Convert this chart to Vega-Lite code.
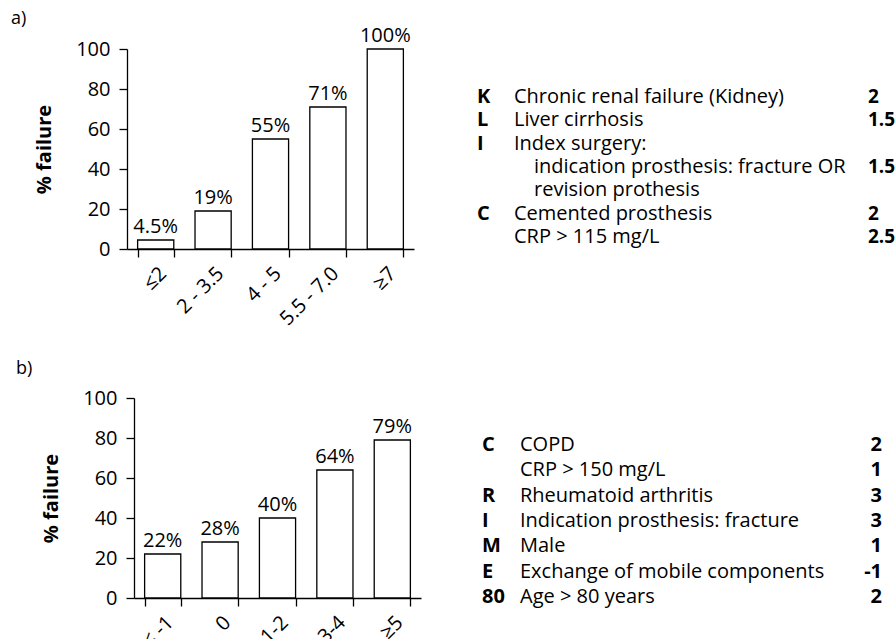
{
  "$schema": "https://vega.github.io/schema/vega-lite/v6.json",
  "padding": {"left": 11, "top": 10, "right": 0, "bottom": 0},
  "config": {
    "font": "Open Sans",
    "view": {"stroke": null},
    "axis": {"domainColor": "black", "tickColor": "black", "labelColor": "black", "titleColor": "black", "domainWidth": 1.3, "tickWidth": 1.3, "grid": false},
    "title": {"color": "black"},
    "text": {"color": "black"}
  },
  "columns": 2,
  "spacing": {"row": 149, "column": 20},
  "bounds": "flush",
  "concat": [
    {
      "width": 287,
      "height": 200,
      "title": {"text": "a)", "anchor": "start", "frame": "group", "dx": -116, "offset": -16, "baseline": "alphabetic", "fontSize": 18, "fontWeight": "normal"},
      "data": {"values": [
        {"score": "≤2", "pct": 4.5, "label": "4.5%"},
        {"score": "2 - 3.5", "pct": 19, "label": "19%"},
        {"score": "4 - 5", "pct": 55, "label": "55%"},
        {"score": "5.5 - 7.0", "pct": 71, "label": "71%"},
        {"score": "≥7", "pct": 100, "label": "100%"}
      ]},
      "encoding": {
        "x": {"field": "score", "type": "nominal", "sort": null, "scale": {"paddingInner": 0.37, "paddingOuter": 0.185},
              "axis": {"title": null, "labelAngle": -45, "labelFontSize": 20, "tickBand": "extent", "tickSize": 8, "labelPadding": 6}},
        "y": {"field": "pct", "type": "quantitative", "scale": {"domain": [0, 100]},
              "axis": {"title": "% failure", "values": [0, 20, 40, 60, 80, 100], "tickSize": 8, "labelFontSize": 20, "labelPadding": 9, "titleFontSize": 20, "titleFontWeight": "bold", "titlePadding": 21}}
      },
      "layer": [
        {"mark": {"type": "bar", "fill": "white", "stroke": "black", "strokeWidth": 1.3}},
        {"mark": {"type": "text", "baseline": "alphabetic", "dy": -7, "fontSize": 20}, "encoding": {"text": {"field": "label"}}}
      ]
    },
    {
      "width": 430,
      "height": 200,
      "data": {"values": [
        {"line": 1, "code": "K", "label": "Chronic renal failure (Kidney)", "level": 1, "points": "2"},
        {"line": 2, "code": "L", "label": "Liver cirrhosis", "level": 1, "points": "1.5"},
        {"line": 3, "code": "I", "label": "Index surgery:", "level": 1, "points": ""},
        {"line": 4, "code": "", "label": "indication prosthesis: fracture OR", "level": 2, "points": "1.5"},
        {"line": 5, "code": "", "label": "revision prothesis", "level": 2, "points": ""},
        {"line": 6, "code": "C", "label": "Cemented prosthesis", "level": 1, "points": "2"},
        {"line": 7, "code": "", "label": "CRP > 115 mg/L", "level": 1, "points": "2.5"}
      ]},
      "encoding": {"y": {"field": "line", "type": "quantitative", "scale": {"domain": [1, 7], "range": [48, 188], "nice": false, "zero": false}, "axis": null}},
      "layer": [
        {"mark": {"type": "text", "align": "left", "baseline": "middle", "fontSize": 20, "fontWeight": "bold"},
         "encoding": {"x": {"datum": 0, "type": "quantitative", "scale": {"domain": [0, 1, 2, 3], "range": [36, 73, 93, 427], "nice": false, "zero": false}, "axis": null}, "text": {"field": "code"}}},
        {"mark": {"type": "text", "align": "left", "baseline": "middle", "fontSize": 20},
         "encoding": {"x": {"field": "level", "type": "quantitative", "axis": null}, "text": {"field": "label"}}},
        {"mark": {"type": "text", "align": "left", "baseline": "middle", "fontSize": 19, "fontWeight": "bold"},
         "encoding": {"x": {"datum": 3, "type": "quantitative", "axis": null}, "text": {"field": "points"}}}
      ]
    },
    {
      "width": 294,
      "height": 200,
      "title": {"text": "b)", "anchor": "start", "frame": "group", "dx": -111, "offset": -4, "baseline": "alphabetic", "fontSize": 18, "fontWeight": "normal"},
      "data": {"values": [
        {"score": "≤ -1", "pct": 22, "label": "22%"},
        {"score": "0", "pct": 28, "label": "28%"},
        {"score": "1-2", "pct": 40, "label": "40%"},
        {"score": "3-4", "pct": 64, "label": "64%"},
        {"score": "≥5", "pct": 79, "label": "79%"}
      ]},
      "encoding": {
        "x": {"field": "score", "type": "nominal", "sort": null, "scale": {"paddingInner": 0.37, "paddingOuter": 0.185, "rangeMin": 7},
              "axis": {"title": null, "labelAngle": -45, "labelFontSize": 20, "tickBand": "extent", "tickSize": 8, "labelPadding": 6}},
        "y": {"field": "pct", "type": "quantitative", "scale": {"domain": [0, 100]},
              "axis": {"title": "% failure", "offset": -7, "values": [0, 20, 40, 60, 80, 100], "tickSize": 8, "labelFontSize": 20, "labelPadding": 9, "titleFontSize": 20, "titleFontWeight": "bold", "titlePadding": 21}}
      },
      "layer": [
        {"mark": {"type": "bar", "fill": "white", "stroke": "black", "strokeWidth": 1.3}},
        {"mark": {"type": "text", "baseline": "alphabetic", "dy": -7, "fontSize": 20}, "encoding": {"text": {"field": "label"}}}
      ]
    },
    {
      "width": 430,
      "height": 200,
      "data": {"values": [
        {"line": 1, "code": "C", "label": "COPD", "level": 1, "points": "2"},
        {"line": 2, "code": "", "label": "CRP > 150 mg/L", "level": 1, "points": "1"},
        {"line": 3, "code": "R", "label": "Rheumatoid arthritis", "level": 1, "points": "3"},
        {"line": 4, "code": "I", "label": "Indication prosthesis: fracture", "level": 1, "points": "3"},
        {"line": 5, "code": "M", "label": "Male", "level": 1, "points": "1"},
        {"line": 6, "code": "E", "label": "Exchange of mobile components", "level": 1, "points": "-1"},
        {"line": 7, "code": "80", "label": "Age > 80 years", "level": 1, "points": "2"}
      ]},
      "encoding": {"y": {"field": "line", "type": "quantitative", "scale": {"domain": [1, 7], "range": [47, 199], "nice": false, "zero": false}, "axis": null}},
      "layer": [
        {"mark": {"type": "text", "align": "left", "baseline": "middle", "fontSize": 20, "fontWeight": "bold"},
         "encoding": {"x": {"datum": 0, "type": "quantitative", "scale": {"domain": [0, 1, 2, 3], "range": [41, 79, 99, 441], "nice": false, "zero": false}, "axis": null}, "text": {"field": "code"}}},
        {"mark": {"type": "text", "align": "left", "baseline": "middle", "fontSize": 20},
         "encoding": {"x": {"field": "level", "type": "quantitative", "axis": null}, "text": {"field": "label"}}},
        {"mark": {"type": "text", "align": "right", "baseline": "middle", "fontSize": 20, "fontWeight": "bold"},
         "encoding": {"x": {"datum": 3, "type": "quantitative", "axis": null}, "text": {"field": "points"}}}
      ]
    }
  ]
}
